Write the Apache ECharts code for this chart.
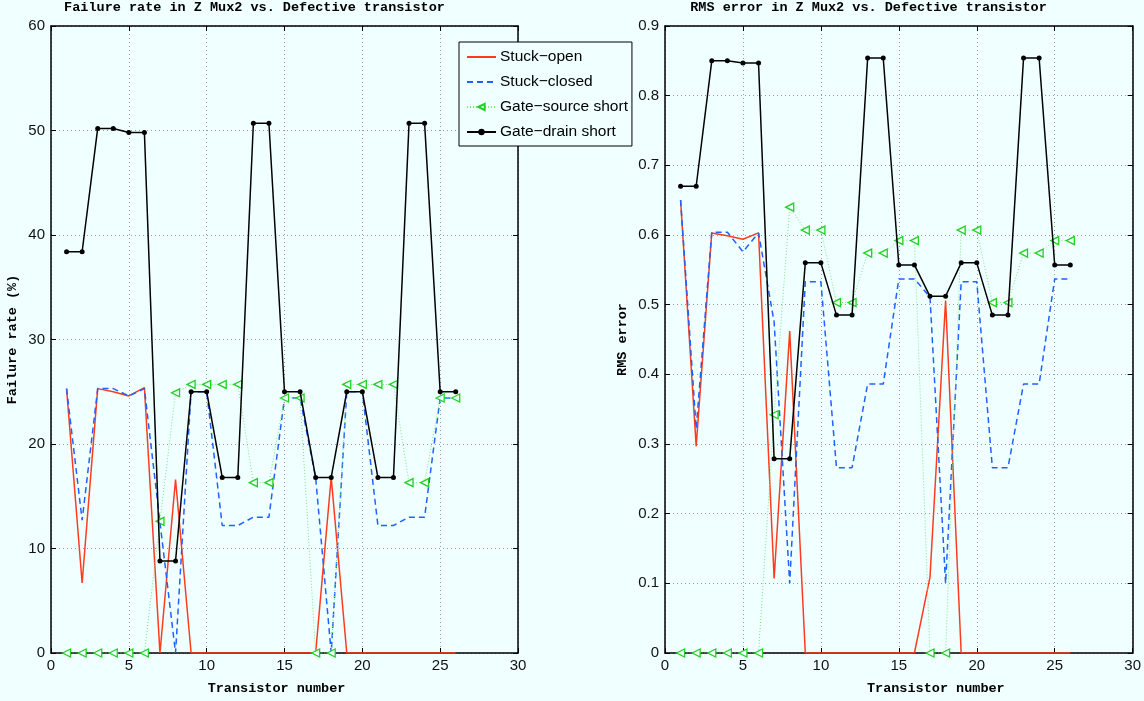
<!DOCTYPE html>
<html>
<head>
<meta charset="utf-8">
<script src="https://cdn.jsdelivr.net/npm/echarts@6/dist/echarts.min.js"></script>
<style>
html,body{margin:0;padding:0;background:#F0FFFF;}
#chart{width:1144px;height:701px;}
</style>
</head>
<body>
<div id="chart"></div>
<script>
const transistors = [1,2,3,4,5,6,7,8,9,10,11,12,13,14,15,16,17,18,19,20,21,22,23,24,25,26];
const seriesNames = ['Stuck\u2212open','Stuck\u2212closed','Gate\u2212source short','Gate\u2212drain short'];

const leftStuckOpen   = [25.3,6.7,25.3,25.0,24.6,25.4,0,16.6,0,0,0,0,0,0,0,0,0,16.8,0,0,0,0,0,0,0,0];
const leftStuckClosed = [25.3,12.7,25.3,25.3,24.6,25.3,12.5,0,25.0,25.0,12.2,12.2,13.0,13.0,24.4,24.4,16.8,0,25.0,25.0,12.2,12.2,13.0,13.0,24.4,24.4];
const leftGateSource  = [0,0,0,0,0,0,12.6,24.9,25.7,25.7,25.7,25.7,16.3,16.3,24.4,24.4,0,0,25.7,25.7,25.7,25.7,16.3,16.3,24.4,24.4];
const leftGateDrain   = [38.4,38.4,50.2,50.2,49.8,49.8,8.8,8.8,25.0,25.0,16.8,16.8,50.7,50.7,25.0,25.0,16.8,16.8,25.0,25.0,16.8,16.8,50.7,50.7,25.0,25.0];

const rightStuckOpen   = [0.650,0.297,0.603,0.599,0.594,0.603,0.107,0.462,0,0,0,0,0,0,0,0,0.109,0.506,0,0,0,0,0,0,0,0];
const rightStuckClosed = [0.650,0.322,0.604,0.604,0.576,0.603,0.475,0.100,0.533,0.533,0.266,0.266,0.386,0.386,0.537,0.537,0.511,0.100,0.533,0.533,0.266,0.266,0.386,0.386,0.537,0.537];
const rightGateSource  = [0,0,0,0,0,0,0.342,0.640,0.607,0.607,0.503,0.503,0.574,0.574,0.592,0.592,0,0,0.607,0.607,0.503,0.503,0.574,0.574,0.592,0.592];
const rightGateDrain   = [0.670,0.670,0.850,0.850,0.847,0.847,0.279,0.279,0.560,0.560,0.485,0.485,0.854,0.854,0.557,0.557,0.512,0.512,0.560,0.560,0.485,0.485,0.854,0.854,0.557,0.557];

const xTicks = [0,5,10,15,20,25,30];
const leftYTicks = [0,10,20,30,40,50,60];
const rightYTicks = [0,0.1,0.2,0.3,0.4,0.5,0.6,0.7,0.8,0.9];

const BG = '#F0FFFF';
const MONO = '"Liberation Mono","DejaVu Sans Mono",monospace';
const SANS = '"Liberation Sans",Arial,Helvetica,sans-serif';

function pairs(vals){ return transistors.map((x,i)=>[x, vals[i]]); }

const styles = [
  {lineStyle:{color:'#ff3b1e',width:1.5,type:'solid'}, symbol:'none', itemStyle:{color:'#ff3b1e'}},
  {lineStyle:{color:'#1e62ff',width:1.5,type:[6,4]}, symbol:'none', itemStyle:{color:'#1e62ff'}},
  {lineStyle:{color:'#7ee87e',width:1,type:[1,2]}, symbol:'triangle', symbolSize:8, symbolRotate:90,
   itemStyle:{color:BG,borderColor:'#22d022',borderWidth:1.3}},
  {lineStyle:{color:'#000',width:1.5,type:'solid'}, symbol:'circle', symbolSize:5, itemStyle:{color:'#000'}}
];

function mkSeries(xi, yi, dataSets){
  return dataSets.map((d,k)=>Object.assign({
    name: seriesNames[k], type:'line', xAxisIndex:xi, yAxisIndex:yi,
    data: pairs(d), showSymbol: styles[k].symbol !== 'none', animation:false,
    emphasis:{disabled:true}, z: 3+k
  }, styles[k]));
}

function xAxisPair(gi){
  return [
    {type:'value', gridIndex:gi, min:0, max:30, interval:5, position:'bottom',
     axisLine:{show:true,onZero:false,lineStyle:{color:'#000',width:1.5}},
     axisTick:{show:true,inside:true,length:5,lineStyle:{color:'#000'}},
     axisLabel:{show:true,margin:5,color:'#111',fontFamily:SANS,fontSize:15,
       formatter:v=>xTicks.includes(v)?String(v):''},
     splitLine:{show:true,lineStyle:{color:'#999',width:1,type:[1,3]}},
     name:'Transistor number', nameLocation:'middle', nameGap:29,
     nameTextStyle:{fontFamily:MONO,fontWeight:'bold',fontSize:13.5,color:'#000',
       padding: gi===0 ? [0,16,0,0] : [0,0,0,74]}},
    {type:'value', gridIndex:gi, min:0, max:30, interval:5, position:'top',
     axisLine:{show:true,onZero:false,lineStyle:{color:'#000',width:1.5}},
     axisTick:{show:true,inside:true,length:5,lineStyle:{color:'#000'}},
     axisLabel:{show:false}, splitLine:{show:false}}
  ];
}

function yAxisPair(gi, max, interval, name, gap, ticks){
  return [
    {type:'value', gridIndex:gi, min:0, max:max, interval:interval, position:'left',
     axisLine:{show:true,onZero:false,lineStyle:{color:'#000',width:1.5}},
     axisTick:{show:true,inside:true,length:5,lineStyle:{color:'#000'}},
     axisLabel:{show:true,margin:6,color:'#111',fontFamily:SANS,fontSize:15,
       formatter:v=>{const t=ticks.find(a=>Math.abs(a-v)<1e-9);return t===undefined?'':String(t);}},
     splitLine:{show:true,lineStyle:{color:'#999',width:1,type:[1,3]}},
     name:name, nameLocation:'middle', nameGap:gap,
     nameTextStyle:{fontFamily:MONO,fontWeight:'bold',fontSize:13.5,color:'#000'}},
    {type:'value', gridIndex:gi, min:0, max:max, interval:interval, position:'right',
     axisLine:{show:true,onZero:false,lineStyle:{color:'#000',width:1.5}},
     axisTick:{show:true,inside:true,length:5,lineStyle:{color:'#000'}},
     axisLabel:{show:false}, splitLine:{show:false}}
  ];
}

const legendData = [
  {name: seriesNames[0], itemStyle:{opacity:0}},
  {name: seriesNames[1], itemStyle:{opacity:0}},
  {name: seriesNames[2]},
  {name: seriesNames[3]}
];

const chart = echarts.init(document.getElementById('chart'), null, {renderer:'canvas'});
chart.setOption({
  backgroundColor: BG,
  animation:false,
  title:[
    {text:'Failure rate in Z Mux2 vs. Defective transistor', left:254.5, top:1, textAlign:'center', padding:0,
     textStyle:{fontFamily:MONO,fontWeight:'bold',fontSize:13.5,color:'#000'}},
    {text:'RMS error in Z Mux2 vs. Defective transistor', left:868.5, top:1, textAlign:'center', padding:0,
     textStyle:{fontFamily:MONO,fontWeight:'bold',fontSize:13.5,color:'#000'}}
  ],
  legend:{
    data: legendData, orient:'vertical', left:459, top:42,
    padding:[7,4,6,7], itemGap:9, itemWidth:29, itemHeight:8,
    backgroundColor:BG, borderColor:'#000', borderWidth:1,
    textStyle:{fontFamily:SANS,fontSize:15.5,color:'#000',padding:[0,0,0,-1]},
    selectedMode:false, z:20
  },
  grid:[
    {left:51, top:26, width:467, height:627, show:true, backgroundColor:BG, borderColor:'#000', borderWidth:0, containLabel:false},
    {left:665, top:26, width:468, height:627, show:true, backgroundColor:BG, borderColor:'#000', borderWidth:0, containLabel:false}
  ],
  xAxis: [...xAxisPair(0), ...xAxisPair(1)],
  yAxis: [...yAxisPair(0, 60, 10, 'Failure rate (%)', 31, leftYTicks),
          ...yAxisPair(1, 0.9, 0.1, 'RMS error', 35, rightYTicks)],
  series: [
    ...mkSeries(0, 0, [leftStuckOpen, leftStuckClosed, leftGateSource, leftGateDrain]),
    ...mkSeries(2, 2, [rightStuckOpen, rightStuckClosed, rightGateSource, rightGateDrain])
  ]
});
</script>
</body>
</html>
